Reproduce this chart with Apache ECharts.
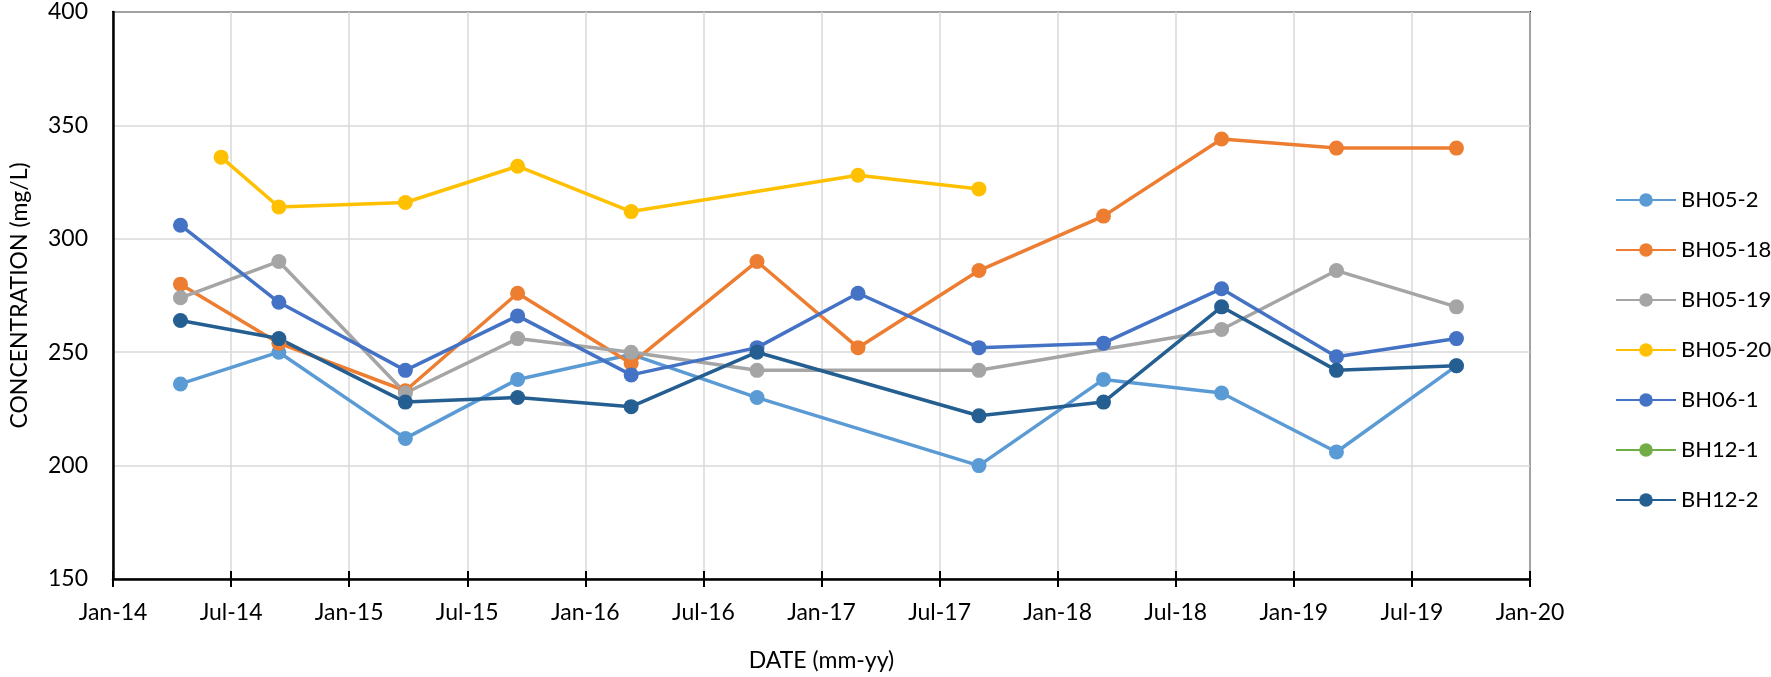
<!DOCTYPE html>
<html>
<head>
<meta charset="utf-8">
<script src="https://cdn.jsdelivr.net/npm/echarts@6/dist/echarts.min.js"></script>
<style>
  html, body { margin: 0; padding: 0; background: #fff; }
  #chart { width: 1771px; height: 677px; }
</style>
</head>
<body>
<div id="chart"></div>
<script>
// sampling dates
const sampleDates = ['2014-04-14', '2014-09-14', '2015-03-27', '2015-09-18', '2016-03-11', '2016-09-23',
  '2017-02-27', '2017-09-01', '2018-03-11', '2018-09-11', '2019-03-06', '2019-09-09'];
const bh05_20Dates = ['2014-06-16', '2014-09-14', '2015-03-27', '2015-09-18', '2016-03-11', '2017-02-27', '2017-09-01'];

// concentrations (mg/L)
const bh05_2 = [236, 250, 212, 238, 249, 230, null, 200, 238, 232, 206, 244];
const bh05_18 = [280, 254, 233, 276, 245, 290, 252, 286, 310, 344, 340, 340];
const bh05_19 = [274, 290, 232, 256, 250, 242, null, 242, null, 260, 286, 270];
const bh05_20 = [336, 314, 316, 332, 312, 328, 322];
const bh06_1 = [306, 272, 242, 266, 240, 252, 276, 252, 254, 278, 248, 256];
const bh12_1 = [];
const bh12_2 = [264, 256, 228, 230, 226, 250, null, 222, 228, 270, 242, 244];

const monthNames = ['Jan', 'Feb', 'Mar', 'Apr', 'May', 'Jun', 'Jul', 'Aug', 'Sep', 'Oct', 'Nov', 'Dec'];
const startYear = 2014;

// months since Jan 2014
function toMonth(s) {
  const p = s.split('-').map(Number);
  return (p[0] - startYear) * 12 + (p[1] - 1) + (p[2] - 1) / 30.4;
}

function pairs(dates, values) {
  return dates.map((d, i) => [toMonth(d), values[i] == null ? null : values[i]]);
}

function tickLabel(v) {
  const y = startYear + Math.floor(v / 12);
  const m = Math.round(v % 12);
  return monthNames[m] + '-' + String(y).slice(2);
}

const font = 'Lato';
const txt = '#000';

function lineSeries(name, color, data) {
  return {
    name: name,
    type: 'line',
    data: data,
    connectNulls: true,
    symbol: 'circle',
    symbolSize: 15,
    showAllSymbol: true,
    lineStyle: { color: color, width: 3.5 },
    itemStyle: { color: color },
    emphasis: { disabled: true }
  };
}

const chart = echarts.init(document.getElementById('chart'));
const xBase = {
  type: 'value',
  min: 0,
  max: 72,
  interval: 6,
  position: 'bottom'
};

chart.setOption({
  animation: false,
  textStyle: { fontFamily: font },
  grid: {
    left: 106,
    right: 241,
    top: 12,
    bottom: 95,
    show: true,
    borderColor: '#000',
    borderWidth: 2
  },
  legend: {
    orient: 'vertical',
    left: 1610,
    top: 184,
    itemWidth: 60,
    itemHeight: 17,
    itemGap: 28,
    textStyle: { fontSize: 22, lineHeight: 22, color: txt, fontFamily: font },
    data: ['BH05-2', 'BH05-18', 'BH05-19', 'BH05-20', 'BH06-1', 'BH12-1', 'BH12-2']
  },
  xAxis: [
    Object.assign({}, xBase, {
      name: 'DATE (mm-yy)',
      nameLocation: 'middle',
      nameGap: 70,
      nameTextStyle: { fontSize: 23, color: txt, fontFamily: font },
      axisLine: { lineStyle: { color: '#000', width: 2.5 } },
      axisTick: { show: true, length: 8, lineStyle: { color: '#000', width: 2 } },
      axisLabel: { fontSize: 23, color: txt, margin: 22, formatter: tickLabel },
      splitLine: { show: true, lineStyle: { color: '#d9d9d9', width: 1.5 } }
    }),
    Object.assign({}, xBase, {
      axisLine: { show: false },
      axisTick: { show: true, inside: true, length: 8, lineStyle: { color: '#000', width: 2 } },
      axisLabel: { show: false },
      splitLine: { show: false }
    })
  ],
  yAxis: {
    type: 'value',
    min: 150,
    max: 400,
    interval: 50,
    name: 'CONCENTRATION (mg/L)',
    nameLocation: 'middle',
    nameGap: 82,
    nameTextStyle: { fontSize: 23, color: txt, fontFamily: font },
    axisLine: { show: true, lineStyle: { color: '#000', width: 2.5 } },
    axisTick: { show: false },
    axisLabel: { fontSize: 23, color: txt, margin: 25 },
    splitLine: { show: true, lineStyle: { color: '#d9d9d9', width: 1.5 } }
  },
  series: [
    lineSeries('BH05-2', '#5b9bd5', pairs(sampleDates, bh05_2)),
    lineSeries('BH05-18', '#ed7d31', pairs(sampleDates, bh05_18)),
    lineSeries('BH05-19', '#a5a5a5', pairs(sampleDates, bh05_19)),
    lineSeries('BH05-20', '#ffc000', pairs(bh05_20Dates, bh05_20)),
    lineSeries('BH06-1', '#4472c4', pairs(sampleDates, bh06_1)),
    lineSeries('BH12-1', '#70ad47', pairs(sampleDates.slice(0, bh12_1.length), bh12_1)),
    lineSeries('BH12-2', '#255e91', pairs(sampleDates, bh12_2))
  ]
});
</script>
</body>
</html>
